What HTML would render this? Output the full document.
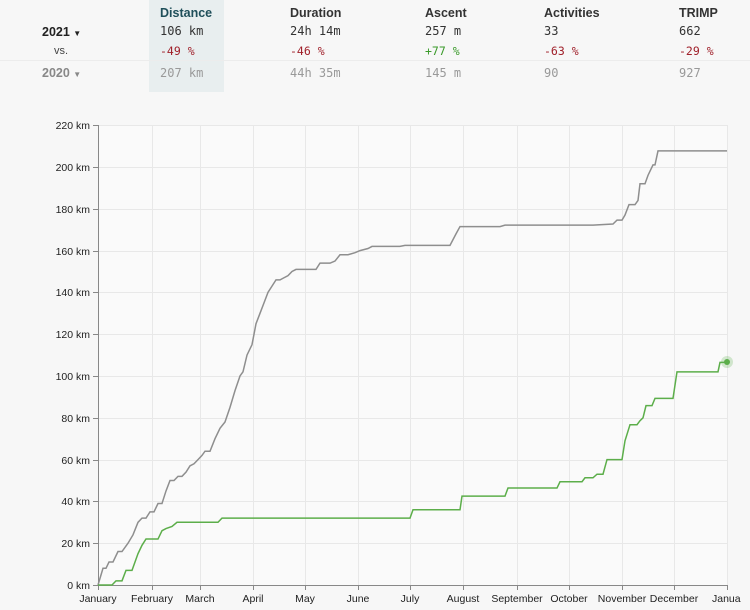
<!DOCTYPE html>
<html><head><meta charset="utf-8"><style>
body{margin:0;width:750px;height:610px;background:#f7f7f7;font-family:"Liberation Sans",sans-serif;position:relative;overflow:hidden}
.t{position:absolute;white-space:nowrap}
.h{font-weight:bold;font-size:12.5px;color:#333;top:6px}
.v{font-family:"DejaVu Sans Mono","Liberation Mono",monospace;font-size:12px;color:#333;top:24px}
.p{font-family:"DejaVu Sans Mono","Liberation Mono",monospace;font-size:11.5px;top:44px;color:#a0202a}
.o{font-family:"DejaVu Sans Mono","Liberation Mono",monospace;font-size:12px;color:#999;top:66px}
</style></head><body>
<div style="position:absolute;left:149px;top:0;width:75px;height:92px;background:#e8eeef"></div>
<div style="position:absolute;left:0;top:60px;width:750px;height:1px;background:#ececec"></div>
<div class="t h" style="left:160px;color:#1f4f5a">Distance</div>
<div class="t h" style="left:290px">Duration</div>
<div class="t h" style="left:425px">Ascent</div>
<div class="t h" style="left:544px">Activities</div>
<div class="t h" style="left:679px">TRIMP</div>
<div class="t" style="left:42px;top:25px;font-weight:bold;font-size:12.5px;color:#222">2021 <span style="font-size:8px">▼</span></div>
<div class="t" style="left:54px;top:45px;font-size:11px;color:#444">vs.</div>
<div class="t" style="left:42px;top:66px;font-weight:bold;font-size:12.5px;color:#888">2020 <span style="font-size:8px">▼</span></div>
<div class="t v" style="left:160px">106 km</div>
<div class="t v" style="left:290px">24h 14m</div>
<div class="t v" style="left:425px">257 m</div>
<div class="t v" style="left:544px">33</div>
<div class="t v" style="left:679px">662</div>
<div class="t p" style="left:160px">-49 %</div>
<div class="t p" style="left:290px">-46 %</div>
<div class="t p" style="left:425px;color:#3a9a2a">+77 %</div>
<div class="t p" style="left:544px">-63 %</div>
<div class="t p" style="left:679px">-29 %</div>
<div class="t o" style="left:160px">207 km</div>
<div class="t o" style="left:290px">44h 35m</div>
<div class="t o" style="left:425px">145 m</div>
<div class="t o" style="left:544px">90</div>
<div class="t o" style="left:679px">927</div>
<svg width="750" height="610" style="position:absolute;left:0;top:0" font-family="Liberation Sans, sans-serif" font-size="10.5" fill="#222">
<rect x="98" y="125" width="630" height="460" fill="#fafafa"/>
<g stroke="#e8e8e8" stroke-width="1">
<line x1="98" x2="728" y1="125.5" y2="125.5"/><line x1="98" x2="728" y1="167.5" y2="167.5"/><line x1="98" x2="728" y1="209.5" y2="209.5"/><line x1="98" x2="728" y1="251.5" y2="251.5"/><line x1="98" x2="728" y1="292.5" y2="292.5"/><line x1="98" x2="728" y1="334.5" y2="334.5"/><line x1="98" x2="728" y1="376.5" y2="376.5"/><line x1="98" x2="728" y1="418.5" y2="418.5"/><line x1="98" x2="728" y1="460.5" y2="460.5"/><line x1="98" x2="728" y1="501.5" y2="501.5"/><line x1="98" x2="728" y1="543.5" y2="543.5"/>
<line x1="152.5" x2="152.5" y1="125" y2="585"/><line x1="200.5" x2="200.5" y1="125" y2="585"/><line x1="253.5" x2="253.5" y1="125" y2="585"/><line x1="305.5" x2="305.5" y1="125" y2="585"/><line x1="358.5" x2="358.5" y1="125" y2="585"/><line x1="410.5" x2="410.5" y1="125" y2="585"/><line x1="463.5" x2="463.5" y1="125" y2="585"/><line x1="517.5" x2="517.5" y1="125" y2="585"/><line x1="569.5" x2="569.5" y1="125" y2="585"/><line x1="622.5" x2="622.5" y1="125" y2="585"/><line x1="674.5" x2="674.5" y1="125" y2="585"/><line x1="727.5" x2="727.5" y1="125" y2="585"/>
</g>
<g stroke="#888"><line x1="98.5" x2="98.5" y1="125" y2="585"/><line x1="98" x2="728" y1="585.5" y2="585.5"/>
<line x1="93" x2="98" y1="125.5" y2="125.5"/><line x1="93" x2="98" y1="167.5" y2="167.5"/><line x1="93" x2="98" y1="209.5" y2="209.5"/><line x1="93" x2="98" y1="251.5" y2="251.5"/><line x1="93" x2="98" y1="292.5" y2="292.5"/><line x1="93" x2="98" y1="334.5" y2="334.5"/><line x1="93" x2="98" y1="376.5" y2="376.5"/><line x1="93" x2="98" y1="418.5" y2="418.5"/><line x1="93" x2="98" y1="460.5" y2="460.5"/><line x1="93" x2="98" y1="501.5" y2="501.5"/><line x1="93" x2="98" y1="543.5" y2="543.5"/><line x1="93" x2="98" y1="585.5" y2="585.5"/>
<line x1="98.5" x2="98.5" y1="585" y2="590"/><line x1="152.5" x2="152.5" y1="585" y2="590"/><line x1="200.5" x2="200.5" y1="585" y2="590"/><line x1="253.5" x2="253.5" y1="585" y2="590"/><line x1="305.5" x2="305.5" y1="585" y2="590"/><line x1="358.5" x2="358.5" y1="585" y2="590"/><line x1="410.5" x2="410.5" y1="585" y2="590"/><line x1="463.5" x2="463.5" y1="585" y2="590"/><line x1="517.5" x2="517.5" y1="585" y2="590"/><line x1="569.5" x2="569.5" y1="585" y2="590"/><line x1="622.5" x2="622.5" y1="585" y2="590"/><line x1="674.5" x2="674.5" y1="585" y2="590"/><line x1="727.5" x2="727.5" y1="585" y2="590"/>
</g>
<g text-anchor="end">
<text x="90" y="129">220 km</text><text x="90" y="171">200 km</text><text x="90" y="213">180 km</text><text x="90" y="255">160 km</text><text x="90" y="296">140 km</text><text x="90" y="338">120 km</text><text x="90" y="380">100 km</text><text x="90" y="422">80 km</text><text x="90" y="464">60 km</text><text x="90" y="505">40 km</text><text x="90" y="547">20 km</text><text x="90" y="589">0 km</text>
</g>
<g text-anchor="middle">
<text x="98" y="602">January</text><text x="152" y="602">February</text><text x="200" y="602">March</text><text x="253" y="602">April</text><text x="305" y="602">May</text><text x="358" y="602">June</text><text x="410" y="602">July</text><text x="463" y="602">August</text><text x="517" y="602">September</text><text x="569" y="602">October</text><text x="622" y="602">November</text><text x="674" y="602">December</text><text x="727" y="602" text-anchor="start" dx="-15">Janua</text>
</g>
<polyline fill="none" stroke="#8e8e8e" stroke-width="1.5" transform="translate(0,585) scale(1,-2.09)" vector-effect="non-scaling-stroke" points="98,0 103,8 106,8 109,11 113,11 118,16 122,16 128,20 133,24 138,30 142,32 146,32 150,35 154,35 158,39 162,39 166,45 170,50 174,50 178,52 182,52 186,54 190,57 194,58 198,60 202,62 205,64 210,64 215,70 220,75 225,78 230,85 235,93 240,100 243,102 247,110 252,115 256,125 260,130 264,135 268,140 272,143 276,146 280,146 284,147 288,148 292,150 296,151 305,151 316,151 320,154 330,154 335,155 340,158 348,158 355,159 360,160 368,161 372,162 400,162 405,162.5 450,162.5 456,168 460,171.5 500,171.5 505,172.2 593,172.2 613,172.7 617,174.6 622,174.6 625,177 629,182 635,182 638,184 640,192 645,192 648,196 653,201 655,201 658,207.7 727,207.7"/>
<polyline fill="none" stroke="#5cae4a" stroke-width="1.5" transform="translate(0,585) scale(1,-2.09)" vector-effect="non-scaling-stroke" points="98,0 112,0 116,2 122,2 126,7 132,7 138,15 142,19 146,22 158,22 162,26 166,27 172,28 177,30 218,30 222,32 410,32 413,36 460,36 462,42.5 505,42.5 508,46.4 557,46.4 560,49.4 582,49.4 585,51.3 593,51.3 597,53 603,53 607,60 622,60 625,69 630,76.7 637,76.7 640,78.6 643,80 646,85.8 652,85.8 655,89.3 673,89.3 677,102 718,102 720,106.5 727,106.5"/>
<circle cx="727" cy="362" r="6" fill="#5cae4a" opacity="0.25"/>
<circle cx="727" cy="362" r="3" fill="#5cae4a"/>
</svg>
</body></html>
